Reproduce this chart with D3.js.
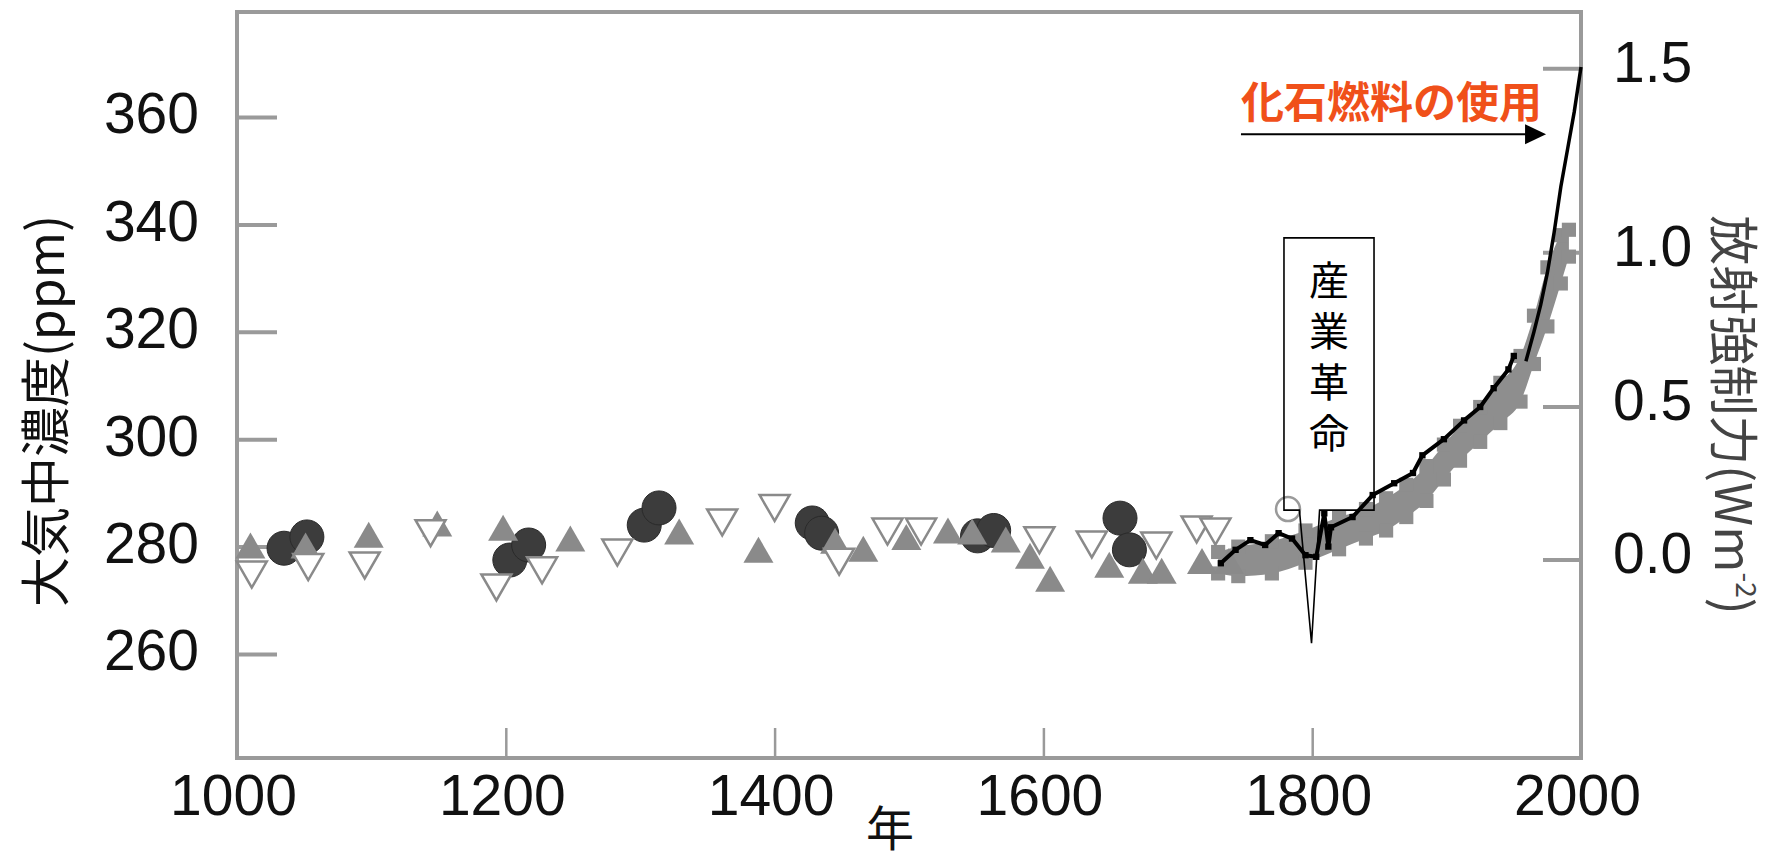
<!DOCTYPE html>
<html><head><meta charset="utf-8">
<script src="https://cdn.jsdelivr.net/npm/d3@7"></script>
<style>
html,body{margin:0;padding:0;background:#fff;}
svg{display:block;}
</style></head><body>
<svg id="chart" width="1776" height="861"></svg>
<script>
// ---------- data ----------
const xTicks = [1000, 1200, 1400, 1600, 1800, 2000];
const yTicks = [260, 280, 300, 320, 340, 360];
const forcingTicks = ["0.0", "0.5", "1.0", "1.5"];
const forcingTickPpm = [277.5, 306, 334.7, 369];

// dark filled circles
const circleYears = [1035, 1052, 1203, 1217, 1303, 1314, 1428, 1435, 1551, 1563, 1657, 1664];
const circlePpm   = [279.7, 281.8, 277.5, 280.3, 284, 287.2, 284.4, 282.5, 282, 283, 285.3, 279.4];

// grey filled up-triangles
const upTriYears = [1010, 1051, 1098, 1149, 1198, 1248, 1329, 1388, 1445, 1466, 1498, 1529, 1547, 1572, 1590, 1605, 1649, 1674, 1688, 1718, 1738];
const upTriPpm   = [279.4, 279.4, 281.4, 283.5, 282.7, 280.7, 282, 278.6, 280.3, 278.8, 281, 282.2, 282, 280.5, 277.5, 273.2, 275.8, 274.7, 274.7, 276.5, 276.5];

// open down-triangles
const downTriYears = [1011, 1053, 1095, 1144, 1193, 1227, 1283, 1361, 1400, 1448, 1484, 1509, 1597, 1636, 1684, 1714, 1728];
const downTriPpm   = [275.6, 277, 277.3, 283.3, 273.2, 276.4, 279.7, 285.3, 288, 278, 283.6, 283.6, 282, 281.2, 281, 284, 283.6];

// open circle
const openCircleYears = [1782];
const openCirclePpm   = [287];

// grey band (dense ice-core record): upper / lower edge
const bandYears  = [1730, 1745, 1770, 1795, 1820, 1840, 1855, 1870, 1885, 1898, 1910, 1925, 1940, 1955, 1965, 1975, 1985, 1991];
const bandTop    = [279, 280, 281, 283, 285.5, 287, 289, 291.5, 295, 299, 302.5, 306, 310.5, 315.5, 323, 332, 338, 339];
const bandBottom = [275, 274.5, 275, 277, 279.5, 281.5, 283, 285.5, 288.5, 292.5, 296, 299.5, 303, 307, 314, 321, 329, 334];

// black ice-core series
const blackYears = [1732, 1743, 1754, 1765, 1775, 1785, 1795, 1803, 1809, 1812, 1814, 1830, 1845, 1861, 1875, 1882, 1898, 1913, 1925, 1935, 1946, 1950];
const blackPpm   = [276.9, 279.4, 281.2, 280.3, 282.5, 281.5, 278.4, 278.1, 286.2, 280, 283.6, 285.5, 289.6, 291.8, 293.7, 297, 300, 303.5, 306, 309.5, 313, 315.5];

// atmospheric record (Mauna Loa)
const mlYears = [1959, 1965, 1970, 1975, 1980, 1985, 1990, 1995, 2000];
const mlPpm   = [314.5, 320, 325, 331, 338.5, 347, 354, 361, 369.3];

// annotations (data units)
const fossilLabel = "化石燃料の使用";
const fossilArrow = {fromYear: 1747, toYear: 1974, ppm: 356.8};
const revolutionLabel = "産業革命";
const revolutionBox = {left: 1779, right: 1846, top: 337.5, bottom: 286.8, tipYear: 1799.5, tipPpm: 262, baseL: 1790.5, baseR: 1805.5};

// ---------- layout ----------
const svg = d3.select("#chart");
const plot = {left: 237, right: 1581, top: 12, bottom: 758};
const x = d3.scaleLinear().domain([1000, 2000]).range([plot.left, plot.right]);
const y = d3.scaleLinear().domain([260, 360]).range([654, 117]);

const axisGrey = "#9a9a9a";
const numFont = "'Liberation Sans', Arial, Helvetica, sans-serif";
const jpFont = "'Noto Sans CJK JP', 'Noto Sans', sans-serif";

// frame
svg.append("rect")
  .attr("x", plot.left).attr("y", plot.top)
  .attr("width", plot.right - plot.left).attr("height", plot.bottom - plot.top)
  .attr("fill", "none").attr("stroke", axisGrey).attr("stroke-width", 4);

// left axis
const gLeft = svg.append("g").attr("transform", `translate(${plot.left},0)`)
  .call(d3.axisLeft(y).tickValues(yTicks).tickSizeInner(-40).tickSizeOuter(0).tickPadding(38));
gLeft.select(".domain").remove();
gLeft.selectAll(".tick line").attr("stroke", axisGrey).attr("stroke-width", 4);
gLeft.selectAll(".tick text").attr("font-family", numFont).attr("font-size", 57).attr("fill", "#111").attr("dy", "0.28em");

// bottom axis
const gBottom = svg.append("g").attr("transform", `translate(0,${plot.bottom})`)
  .call(d3.axisBottom(x).tickValues(xTicks).tickFormat(d3.format("d")).tickSizeInner(-30).tickSizeOuter(0).tickPadding(17));
gBottom.select(".domain").remove();
gBottom.selectAll(".tick line").attr("stroke", axisGrey).attr("stroke-width", 2.5);
gBottom.selectAll(".tick text").attr("font-family", numFont).attr("font-size", 57).attr("fill", "#111").attr("x", -4);

// right axis (radiative forcing)
const gRight = svg.append("g");
const rTicks = gRight.selectAll("g").data(forcingTicks.map((t, i) => ({t, ppm: forcingTickPpm[i]})))
  .join("g").attr("transform", d => `translate(${plot.right},${y(d.ppm)})`);
rTicks.append("line").attr("x1", -38).attr("x2", 0).attr("stroke", axisGrey).attr("stroke-width", 4);
rTicks.append("text").attr("x", 32).attr("y", -7).attr("dy", "0.35em")
  .attr("font-family", numFont).attr("font-size", 57).attr("fill", "#111").text(d => d.t);

// axis titles
svg.append("text").attr("transform", "translate(42,411) rotate(-90)")
  .attr("text-anchor", "middle").attr("dominant-baseline", "central")
  .attr("font-family", jpFont).attr("font-size", 50).attr("fill", "#111")
  .text("大気中濃度(ppm)");
const rt = svg.append("text").attr("transform", "translate(1737,415) rotate(90)")
  .attr("text-anchor", "middle").attr("dominant-baseline", "central")
  .attr("font-family", jpFont).attr("font-size", 50).attr("fill", "#444");
rt.append("tspan").text("放射強制力(Wm");
rt.append("tspan").attr("font-size", 28).attr("dy", -11).text("-2");
rt.append("tspan").attr("dy", 11).text(")");
svg.append("text").attr("x", 890).attr("y", 846).attr("text-anchor", "middle")
  .attr("font-family", jpFont).attr("font-size", 48).attr("fill", "#111").text("年");

// ---------- marks ----------
const band = bandYears.map((yr, i) => ({yr, top: bandTop[i], bot: bandBottom[i]}));
svg.append("path").datum(band)
  .attr("d", d3.area().x(d => x(d.yr)).y0(d => y(d.bot)).y1(d => y(d.top)).curve(d3.curveMonotoneX))
  .attr("fill", "#8e8e8e");
const sq = d3.symbol().type(d3.symbolSquare).size(200);
svg.append("g").selectAll("path").data(band.flatMap(d => [{yr: d.yr, v: d.top}, {yr: d.yr, v: d.bot}]))
  .join("path").attr("d", sq).attr("transform", d => `translate(${x(d.yr)},${y(d.v)})`).attr("fill", "#8e8e8e");

const circ = circleYears.map((yr, i) => ({yr, v: circlePpm[i]}));
svg.append("g").selectAll("circle").data(circ).join("circle")
  .attr("cx", d => x(d.yr)).attr("cy", d => y(d.v)).attr("r", 17)
  .attr("fill", "#3c3c3c").attr("stroke", "#2a2a2a").attr("stroke-width", 1);

const triSym = d3.symbol().type(d3.symbolTriangle).size(390);
const up = upTriYears.map((yr, i) => ({yr, v: upTriPpm[i]}));
svg.append("g").selectAll("path").data(up).join("path")
  .attr("d", triSym).attr("transform", d => `translate(${x(d.yr)},${y(d.v)})`)
  .attr("fill", "#8a8a8a");

const down = downTriYears.map((yr, i) => ({yr, v: downTriPpm[i]}));
svg.append("g").selectAll("path").data(down).join("path")
  .attr("d", triSym).attr("transform", d => `translate(${x(d.yr)},${y(d.v)}) rotate(180)`)
  .attr("fill", "#fff").attr("stroke", "#8a8a8a").attr("stroke-width", 2.5);

const oc = openCircleYears.map((yr, i) => ({yr, v: openCirclePpm[i]}));
svg.append("g").selectAll("circle").data(oc).join("circle")
  .attr("cx", d => x(d.yr)).attr("cy", d => y(d.v)).attr("r", 12)
  .attr("fill", "#fff").attr("stroke", "#9a9a9a").attr("stroke-width", 2.5);

const blk = blackYears.map((yr, i) => ({yr, v: blackPpm[i]}));
svg.append("path").datum(blk)
  .attr("d", d3.line().x(d => x(d.yr)).y(d => y(d.v)))
  .attr("fill", "none").attr("stroke", "#000").attr("stroke-width", 4).attr("stroke-linejoin", "round");
svg.append("g").selectAll("path").data(blk).join("path")
  .attr("d", d3.symbol().type(d3.symbolSquare).size(40))
  .attr("transform", d => `translate(${x(d.yr)},${y(d.v)})`).attr("fill", "#000");

const ml = mlYears.map((yr, i) => ({yr, v: mlPpm[i]}));
svg.append("path").datum(ml)
  .attr("d", d3.line().x(d => x(d.yr)).y(d => y(d.v)))
  .attr("fill", "none").attr("stroke", "#000").attr("stroke-width", 3.5);

// ---------- annotations ----------
const ay = y(fossilArrow.ppm);
const ax0 = x(fossilArrow.fromYear), ax1 = x(fossilArrow.toYear);
svg.append("line").attr("x1", ax0).attr("x2", ax1 - 18).attr("y1", ay).attr("y2", ay)
  .attr("stroke", "#000").attr("stroke-width", 2);
svg.append("path").attr("d", `M${ax1},${ay} L${ax1 - 21},${ay - 10} L${ax1 - 21},${ay + 10} Z`).attr("fill", "#000");
svg.append("text").attr("x", ax1 - 4).attr("y", 118).attr("text-anchor", "end")
  .attr("font-family", jpFont).attr("font-weight", 700).attr("font-size", 43).attr("fill", "#f0501a")
  .text(fossilLabel);

const b = revolutionBox;
const boxPath = d3.path();
boxPath.moveTo(x(b.left), y(b.top));
boxPath.lineTo(x(b.right), y(b.top));
boxPath.lineTo(x(b.right), y(b.bottom));
boxPath.lineTo(x(b.baseR), y(b.bottom));
boxPath.lineTo(x(b.tipYear), y(b.tipPpm));
boxPath.lineTo(x(b.baseL), y(b.bottom));
boxPath.lineTo(x(b.left), y(b.bottom));
boxPath.closePath();
svg.append("path").attr("d", boxPath.toString()).attr("fill", "none").attr("stroke", "#000").attr("stroke-width", 1.6);
const cx = (x(b.left) + x(b.right)) / 2;
svg.append("text")
  .attr("x", cx).attr("y", y(b.top) + 22)
  .style("writing-mode", "vertical-rl")
  .style("letter-spacing", "11px")
  .attr("font-family", jpFont).attr("font-size", 40).attr("fill", "#000")
  .text(revolutionLabel);
</script>
</body></html>
